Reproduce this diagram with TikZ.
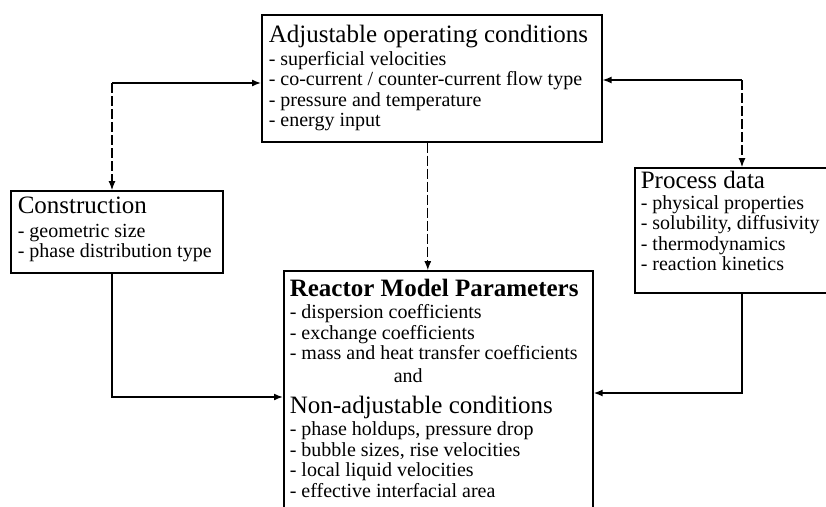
\documentclass[tikz,border=0pt]{standalone}
\usepackage{fontspec}
\setmainfont{Liberation Serif}
\usetikzlibrary{arrows.meta}
\tikzset{
  boxnode/.style={draw, line width=1.6pt, inner sep=0pt, anchor=north west},
  upline/.style={line width=1.1pt, dash pattern=on 10pt off 3pt},
  hline/.style={line width=1.4pt},
  lowline/.style={line width=1.6pt},
  tip/.style={-{Latex[length=9pt,width=7pt]}},
}
\newcommand{\ttl}[1]{{\fontsize{25}{25}\selectfont #1}}
\newcommand{\itm}{\fontsize{20}{20.5}\selectfont}
\begin{document}
\begin{tikzpicture}[x=1pt,y=-1pt]
\useasboundingbox (0,0) rectangle (826,506);
\clip (0,0) rectangle (826,506);
\fill[white] (0,0) rectangle (826,506);

\node[boxnode] (adj) at (261,14) {\parbox[t][127pt][t]{340pt}{\itm\leftskip=7pt\rule{0pt}{28pt}\ttl{Adjustable operating conditions}\\[2pt]- superficial velocities\\- co-current / counter-current flow type\\- pressure and temperature\\- energy input}};

\node[boxnode] (con) at (10,190) {\parbox[t][82pt][t]{212pt}{\itm\leftskip=7pt\rule{0pt}{23pt}\ttl{Construction}\\[3pt]- geometric size\\- phase distribution type}};

\node[boxnode] (proc) at (634,167) {\parbox[t][125pt][t]{200pt}{\itm\leftskip=6pt\rule{0pt}{21pt}\ttl{Process data}\\[0pt]- physical properties\\- solubility, diffusivity\\- thermodynamics\\- reaction kinetics}};

\node[boxnode] (rea) at (283,270) {\parbox[t][260pt][t]{309pt}{\itm\leftskip=6pt\rule{0pt}{26pt}{\fontsize{25}{25}\selectfont\bfseries Reactor Model Parameters}\\[1.5pt]- dispersion coefficients\\- exchange coefficients\\- mass and heat transfer coefficients\\[2.5pt]\hspace*{104pt}and\\[10.5pt]\ttl{Non-adjustable conditions}\\[1.5pt]- phase holdups, pressure drop\\- bubble sizes, rise velocities\\- local liquid velocities\\- effective interfacial area}};

\coordinate (cL) at (112,83);
\coordinate (cR) at (742,80);
\coordinate (cLL) at (112,397);
\coordinate (cRR) at (742,393);

\draw[hline, tip] (cL) -- (adj.west |- cL);
\draw[upline, tip] (cL) -- (con.north -| cL);
\draw[hline, tip] (cR) -- (adj.east |- cR);
\draw[upline, tip] (cR) -- (proc.north -| cR);
\draw[upline, line width=0.9pt, tip] ([xshift=-4pt]adj.south) -- ([xshift=-4pt]adj.south |- rea.north);
\draw[lowline, tip] (con.south -| cLL) -- (cLL) -- (rea.west |- cLL);
\draw[lowline, tip] (proc.south -| cRR) -- (cRR) -- (rea.east |- cRR);
\end{tikzpicture}
\end{document}
